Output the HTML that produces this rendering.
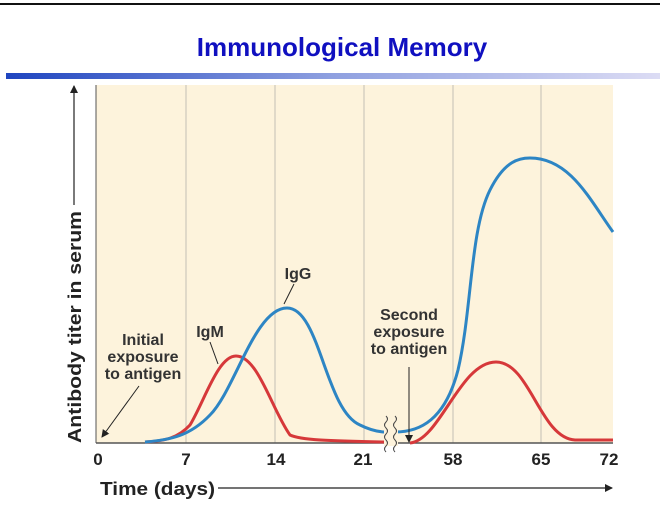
<!DOCTYPE html>
<html><head><style>
body{margin:0;width:660px;height:512px;background:#fff;overflow:hidden;font-family:"Liberation Sans",sans-serif}
</style></head><body>
<svg width="660" height="512" viewBox="0 0 660 512" xmlns="http://www.w3.org/2000/svg" font-family="Liberation Sans, sans-serif">
<defs>
<linearGradient id="g" x1="0" x2="1"><stop offset="0" stop-color="#1f45c0"/><stop offset="0.5" stop-color="#8fa0e0"/><stop offset="1" stop-color="#dcdcf4"/></linearGradient>
<marker id="ah" markerWidth="8" markerHeight="8" refX="7" refY="4" orient="auto" markerUnits="userSpaceOnUse"><path d="M0,0 L8,4 L0,8 z" fill="#222"/></marker>
</defs>
<rect x="0" y="3" width="660" height="2" fill="#111"/>
<text x="342" y="56" text-anchor="middle" font-weight="bold" font-size="26" fill="#1010c0">Immunological Memory</text>
<rect x="6" y="73" width="654" height="6" fill="url(#g)"/>
<rect x="96" y="85" width="517" height="358" fill="#fdf3dc"/>
<g stroke="#ccc8bc" stroke-width="1.2">
<line x1="186" y1="85" x2="186" y2="443"/><line x1="275" y1="85" x2="275" y2="443"/><line x1="364" y1="85" x2="364" y2="443"/><line x1="453" y1="85" x2="453" y2="443"/><line x1="541" y1="85" x2="541" y2="443"/>
</g>
<line x1="96" y1="85" x2="96" y2="443" stroke="#555" stroke-width="1"/>
<line x1="96" y1="443" x2="613" y2="443" stroke="#555" stroke-width="1.5"/>
<path d="M145,442 C165,441 178,438 190,425 C205,400 218,356 236,356 C258,356 272,410 290,435 C300,440 330,441 384,442" fill="none" stroke="#d6383a" stroke-width="3"/>
<path d="M410,443 C440,440 460,362 496,362 C530,362 540,438 575,440 L613,440" fill="none" stroke="#d6383a" stroke-width="3"/>
<path d="M145,442 C170,440 190,436 210,415 C235,390 255,308 287,308 C320,308 325,410 360,425 C370,430 378,432 386,432" fill="none" stroke="#2d85c4" stroke-width="3"/>
<path d="M395,432 C420,432 445,420 458,370 C472,310 470,230 490,190 C505,160 520,158 530,158 C570,158 590,200 613,232" fill="none" stroke="#2d85c4" stroke-width="3"/>
<rect x="384" y="416" width="14" height="30" fill="#fdf3dc"/>
<path d="M386,416 q3,3 0,6 q-3,3 0,6 q3,3 0,6 q-3,3 0,6 q3,3 0,6 q-3,3 0,6" fill="none" stroke="#444" stroke-width="1"/>
<path d="M395,416 q3,3 0,6 q-3,3 0,6 q3,3 0,6 q-3,3 0,6 q3,3 0,6 q-3,3 0,6" fill="none" stroke="#444" stroke-width="1"/>
<g font-weight="bold" font-size="17" fill="#222" text-anchor="middle">
<text x="98" y="465">0</text><text x="186" y="465">7</text><text x="276" y="465">14</text><text x="363" y="465">21</text><text x="453" y="465">58</text><text x="541" y="465">65</text><text x="609" y="465">72</text>
</g>
<text x="100" y="495" font-weight="bold" font-size="18" fill="#222" textLength="115" lengthAdjust="spacingAndGlyphs">Time (days)</text>
<line x1="218" y1="488" x2="612" y2="488" stroke="#222" stroke-width="1.2" marker-end="url(#ah)"/>
<line x1="74" y1="445" x2="74" y2="86" stroke="#222" stroke-width="1.2" marker-end="url(#ah)"/>
<rect x="62" y="205" width="24" height="240" fill="#fff"/>
<text transform="translate(81,443) rotate(-90)" font-weight="bold" font-size="18" fill="#222" textLength="232" lengthAdjust="spacingAndGlyphs">Antibody titer in serum</text>
<g font-weight="bold" font-size="16" fill="#333" text-anchor="middle">
<text x="143" y="345">Initial</text><text x="143" y="362">exposure</text><text x="143" y="379">to antigen</text>
<text x="210" y="337">IgM</text>
<text x="298" y="279">IgG</text>
<text x="409" y="320">Second</text><text x="409" y="337">exposure</text><text x="409" y="354">to antigen</text>
</g>
<line x1="139" y1="386" x2="102" y2="437" stroke="#222" stroke-width="1" marker-end="url(#ah)"/>
<line x1="210" y1="342" x2="218" y2="364" stroke="#222" stroke-width="1"/>
<line x1="294" y1="284" x2="284" y2="304" stroke="#222" stroke-width="1"/>
<line x1="409" y1="367" x2="409" y2="442" stroke="#222" stroke-width="1" marker-end="url(#ah)"/>
</svg>
</body></html>
